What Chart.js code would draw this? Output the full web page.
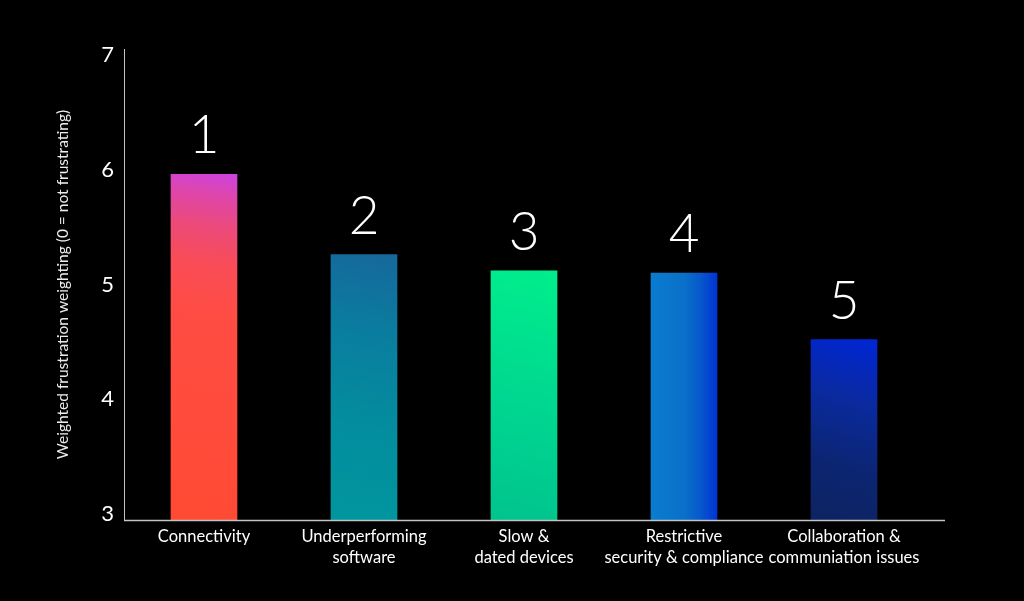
<!DOCTYPE html>
<html>
<head>
<meta charset="utf-8">
<script src="https://cdn.jsdelivr.net/npm/chart.js@4.4.1/dist/chart.umd.min.js"></script>
<style>
  html, body { margin: 0; padding: 0; background: #000; }
  #wrap { width: 1024px; height: 601px; }
</style>
</head>
<body>
<div id="wrap"><canvas id="c" width="1024" height="601"></canvas></div>
<script>
// ---- data ----
const categories = [
  ["Connectivity"],
  ["Underperforming", "software"],
  ["Slow &", "dated devices"],
  ["Restrictive", "security & compliance"],
  ["Collaboration &", "communiation issues"]
];
const values = [5.96, 5.26, 5.12, 5.10, 4.52];
const ranks = ["1", "2", "3", "4", "5"];
const yTicks = [3, 4, 5, 6, 7];
const yTitle = "Weighted frustration weighting (0 = not frustrating)";

// ---- styles ----
const FONT = "Lato, 'Open Sans', sans-serif";
const gradientStyles = [
  { dir: "diag", stops: [[0, "#cc42e0"], [0.07, "#de46aa"], [0.16, "#ec4a7a"], [0.26, "#f84c58"], [0.4, "#ff4c44"], [1, "#ff4b33"]] },
  { dir: "diag", stops: [[0, "#16689b"], [0.3, "#0a7d9f"], [0.65, "#038d9e"], [1, "#00969e"]] },
  { dir: "diag", stops: [[0, "#00ee8c"], [0.5, "#00d890"], [1, "#00c48e"]] },
  { dir: "horiz", stops: [[0, "#0a7ccf"], [0.5, "#0a70c9"], [0.75, "#0758cc"], [1, "#0034d4"]] },
  { dir: "diag", stops: [[0, "#0026d6"], [0.35, "#0a2a9e"], [0.7, "#0c2572"], [1, "#0d2462"]] }
];

function barFill(context) {
  const chart = context.chart;
  const i = context.dataIndex;
  const st = gradientStyles[i];
  const xs = chart.scales.x, ys = chart.scales.y;
  if (!chart.chartArea || !xs || !ys || xs.width === 0) return st.stops[st.stops.length - 1][1];
  const cx = xs.getPixelForValue(i);
  const half = 33;
  const top = ys.getPixelForValue(values[i]);
  const bottom = chart.chartArea.bottom;
  let g;
  if (st.dir === "horiz") {
    g = chart.ctx.createLinearGradient(cx - half, 0, cx + half, 0);
  } else {
    g = chart.ctx.createLinearGradient(cx + half, top, cx - half * 0.6, bottom);
  }
  st.stops.forEach(s => g.addColorStop(s[0], s[1]));
  return g;
}

const rankPlugin = {
  id: "ranks",
  afterDatasetsDraw(chart) {
    const ctx = chart.ctx;
    const meta = chart.getDatasetMeta(0);
    ctx.save();
    ctx.fillStyle = "#ffffff";
    ctx.font = "300 53px " + FONT;
    ctx.textAlign = "center";
    ctx.textBaseline = "alphabetic";
    meta.data.forEach((bar, i) => {
      ctx.fillText(ranks[i], bar.x, bar.y - 21);
    });
    ctx.restore();
  },
  afterDraw(chart) {
    const ctx = chart.ctx;
    const a = chart.chartArea;
    ctx.save();
    ctx.strokeStyle = "#c4c4c4";
    ctx.lineWidth = 1.5;
    ctx.beginPath();
    ctx.moveTo(a.left, a.bottom + 0.5);
    ctx.lineTo(a.right + 21, a.bottom + 0.5);
    ctx.stroke();
    ctx.restore();
  }
};

new Chart(document.getElementById("c"), {
  type: "bar",
  data: {
    labels: categories,
    datasets: [{
      data: values,
      backgroundColor: barFill,
      borderWidth: 0,
      barThickness: 66
    }]
  },
  options: {
    responsive: false,
    animation: false,
    devicePixelRatio: 1,
    layout: { padding: { left: 0, top: 49, right: 100, bottom: 27 } },
    plugins: { legend: { display: false }, tooltip: { enabled: false } },
    scales: {
      x: {
        offset: true,
        grid: { display: false, drawTicks: false },
        border: { display: false },
        ticks: {
          color: "#ffffff",
          font: { family: FONT, size: 16.5, lineHeight: 1.27 },
          padding: 6,
          maxRotation: 0,
          autoSkip: false
        },
        afterFit: s => { s.height = 54; }
      },
      y: {
        min: 2.95,
        max: 7.05,
        grid: { display: false, drawTicks: false },
        border: { display: true, color: "#c4c4c4", width: 1 },
        ticks: {
          color: "#ffffff",
          font: { family: FONT, size: 22 },
          padding: 10
        },
        afterBuildTicks: s => { s.ticks = yTicks.map(v => ({ value: v })); },
        title: {
          display: true,
          text: yTitle,
          color: "#ececec",
          font: { family: FONT, size: 15.5 },
          padding: { top: 53.5, bottom: 0 }
        },
        afterFit: s => { s.width = 124; }
      }
    }
  },
  plugins: [rankPlugin]
});
</script>
</body>
</html>
